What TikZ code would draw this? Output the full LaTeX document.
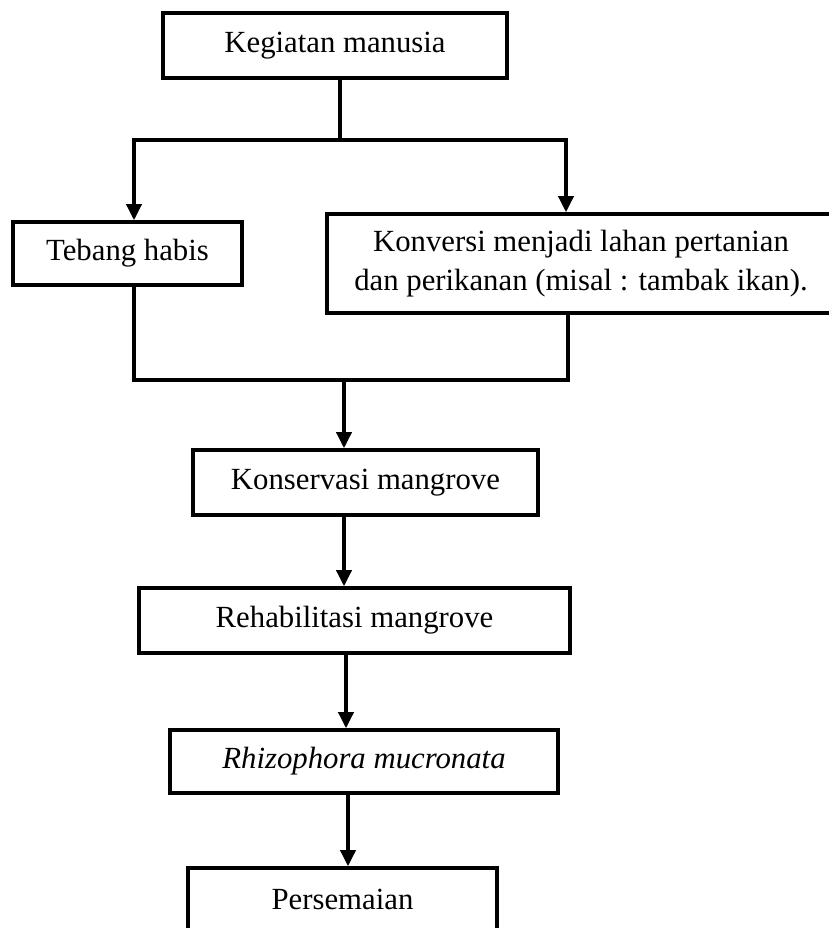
\documentclass[tikz,border=0pt]{standalone}
\usepackage{fontspec}
\setmainfont{Liberation Serif}
\usetikzlibrary{positioning,arrows.meta}

\tikzset{
  flowbox/.style={draw, line width=2pt, inner sep=0pt, align=center},
  flowline/.style={line width=2pt},
  flowarrow/.style={line width=2pt, -{Triangle[length=0.32cm,width=0.30cm]}}
}

\begin{document}
\begin{tikzpicture}[every node/.style={font=\fontsize{17.5}{22.5}\selectfont}]
  \clip (0,0) rectangle (16.58,18.56);
  % boxes
  \node[flowbox, minimum width=6.88cm, minimum height=1.30cm] (kegiatan) at (6.70,17.65) {Kegiatan manusia};
  \node[flowbox, minimum width=4.58cm, minimum height=1.26cm] (tebang) at (2.55,13.49) {Tebang habis};
  \node[flowbox, minimum width=10.16cm, minimum height=1.98cm] (konversi) at (11.62,13.29) {Konversi menjadi lahan pertanian\\ dan perikanan (misal : tambak ikan).};
  \node[flowbox, minimum width=6.90cm, minimum height=1.30cm] (konservasi) at (7.31,8.91) {Konservasi mangrove};
  \node[flowbox, minimum width=8.62cm, minimum height=1.30cm] (rehab) at (7.09,6.15) {Rehabilitasi mangrove};
  \node[flowbox, minimum width=7.76cm, minimum height=1.26cm] (rhizo) at (7.28,3.33) {\textit{Rhizophora mucronata}};
  \node[flowbox, minimum width=6.18cm, minimum height=1.24cm] (semai) at (6.85,0.58) {Persemaian};
  % branch points
  \coordinate (split) at (6.80,15.76);
  \coordinate (merge) at (6.88,10.96);
  % connectors
  \draw[flowline] (kegiatan.south -| split) -- (split);
  \draw[flowarrow] (split) -| ([xshift=0.13cm]tebang.north);
  \draw[flowarrow] (split) -| ([xshift=-0.30cm]konversi.north);
  \draw[flowline] ([xshift=0.13cm]tebang.south) |- (merge) -| ([xshift=-0.26cm]konversi.south);
  \draw[flowarrow] (merge) -- (merge |- konservasi.north);
  \draw[flowarrow] (konservasi.south -| merge) -- (rehab.north -| merge);
  \draw[flowarrow] ([xshift=0.04cm]rehab.south -| merge) -- ([xshift=0.04cm]rhizo.north -| merge);
  \draw[flowarrow] ([xshift=0.08cm]rhizo.south -| merge) -- ([xshift=0.08cm]semai.north -| merge);
\end{tikzpicture}
\end{document}
